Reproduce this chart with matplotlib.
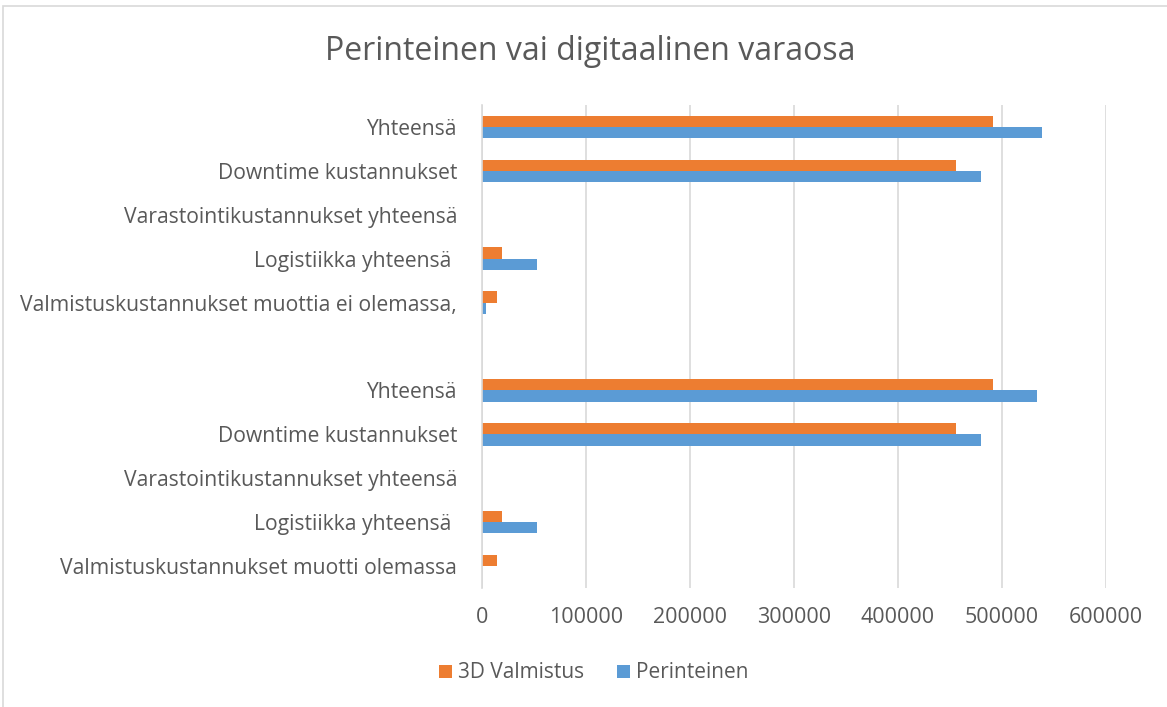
import matplotlib
matplotlib.use("Agg")
import matplotlib.pyplot as plt
import numpy as np

categories = [
    "Valmistuskustannukset muotti olemassa",
    "Logistiikka yhteensä ",
    "Varastointikustannukset yhteensä",
    "Downtime kustannukset",
    "Yhteensä",
    "",
    "Valmistuskustannukset muottia ei olemassa,",
    "Logistiikka yhteensä ",
    "Varastointikustannukset yhteensä",
    "Downtime kustannukset",
    "Yhteensä",
]
perinteinen = [0, 52500, 0, 480000, 534000, 0, 3800, 52500, 0, 480000, 538000]
valmistus_3d = [14400, 19200, 0, 456000, 491000, 0, 14400, 19200, 0, 456000, 491000]
xticks = [0, 100000, 200000, 300000, 400000, 500000, 600000]

plt.rcParams['font.family'] = ['Open Sans', 'DejaVu Sans']
text_color = '#595959'

fig = plt.figure(figsize=(11.67, 7.07), dpi=100)
ax = fig.add_axes([482/1167, 1-588/707, 624/1167, 483/707])

y = np.arange(len(categories))
h = 0.257
ax.barh(y - h/2, perinteinen, height=h, color='#5B9BD5', label='Perinteinen', zorder=3)
ax.barh(y + h/2, valmistus_3d, height=h, color='#ED7D31', label='3D Valmistus', zorder=3)

ax.set_ylim(-0.5, len(categories) - 0.5)
ax.set_xlim(0, 600000)
ax.set_xticks(xticks)
ax.set_xticklabels([str(v) for v in xticks])
ax.set_yticks(y)
ax.set_yticklabels(categories)
ax.tick_params(axis='both', length=0, colors=text_color)
ax.tick_params(axis='y', pad=18, labelsize=15.2)
ax.tick_params(axis='x', pad=14, labelsize=15.5)
ax.grid(axis='x', color='#D9D9D9', linewidth=1.2, zorder=0)
for s in ['top', 'right', 'bottom']:
    ax.spines[s].set_visible(False)
ax.spines['left'].set_color('#D9D9D9')
ax.spines['left'].set_linewidth(1.2)
ax.spines['left'].set_zorder(4)

fig.text(590/1167, 1-51/707, "Perinteinen vai digitaalinen varaosa", ha='center', va='center',
         fontsize=23, color=text_color)

handles, labels = ax.get_legend_handles_labels()
leg = fig.legend(handles[::-1], labels[::-1], loc='center', bbox_to_anchor=(594/1167, 1-673/707),
                 ncol=2, frameon=False, fontsize=15, handlelength=0.6, handleheight=0.6,
                 handletextpad=0.3, columnspacing=1.6, labelcolor=text_color)

# outer chart border
fig.patches.append(plt.Rectangle((3/1167, -0.1), 1.2, 1-6/707+0.1, transform=fig.transFigure,
                                 fill=False, edgecolor='#D9D9D9', linewidth=1.2))

fig.savefig("out.png", dpi=100)
